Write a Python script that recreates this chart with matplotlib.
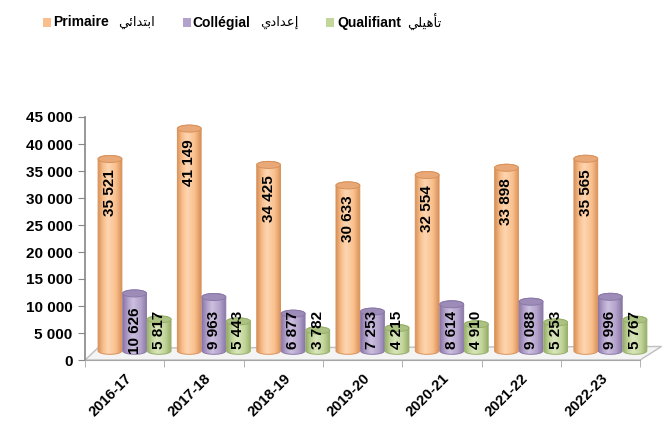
import numpy as np
import matplotlib
matplotlib.use("Agg")
import matplotlib.pyplot as plt
from matplotlib.patches import Polygon, Ellipse, Rectangle
from matplotlib.colors import to_rgb

years = ["2016-17", "2017-18", "2018-19", "2019-20", "2020-21", "2021-22", "2022-23"]
primaire = [35521, 41149, 34425, 30633, 32554, 33898, 35565]
college = [10626, 9963, 6877, 7253, 8614, 9088, 9996]
qualifiant = [5817, 5443, 3782, 4215, 4910, 5253, 5767]
names_fr = ["Primaire", "Collégial", "Qualifiant"]
names_ar = ["ابتدائي", "إعدادي", "تأهيلي"]

# (dark edge, body, highlight, cap)
palette = [
    ("#D9925A", "#F9BF8C", "#FDD6B2", "#E9A877"),
    ("#8B78A8", "#B3A2CB", "#CCC0DE", "#9D8BB8"),
    ("#97AF6A", "#C3D69B", "#D9E6BD", "#ABC283"),
]

# presentation forms so the arabic joins without a shaping engine
FORMS = {
    'ا': ('\uFE8D', '\uFE8E', None, None),
    'أ': ('\uFE83', '\uFE84', None, None),
    'إ': ('\uFE87', '\uFE88', None, None),
    'د': ('\uFEA9', '\uFEAA', None, None),
    'ب': ('\uFE8F', '\uFE90', '\uFE91', '\uFE92'),
    'ت': ('\uFE95', '\uFE96', '\uFE97', '\uFE98'),
    'ئ': ('\uFE89', '\uFE8A', '\uFE8B', '\uFE8C'),
    'ي': ('\uFEF1', '\uFEF2', '\uFEF3', '\uFEF4'),
    'ع': ('\uFEC9', '\uFECA', '\uFECB', '\uFECC'),
    'ه': ('\uFEE9', '\uFEEA', '\uFEEB', '\uFEEC'),
    'ل': ('\uFEDD', '\uFEDE', '\uFEDF', '\uFEE0'),
}

def shape(word):
    out = []
    for i, ch in enumerate(word):
        f = FORMS[ch]
        prev = i > 0 and FORMS[word[i - 1]][2] is not None
        nxt = i < len(word) - 1 and f[2] is not None
        if prev and nxt:
            g = f[3]
        elif prev:
            g = f[1]
        elif nxt:
            g = f[2]
        else:
            g = f[0]
        out.append(g)
    return ''.join(reversed(out))

def gradient(cols):
    dark, mid, light, _ = cols
    stops = [0, 0.22, 0.42, 0.75, 1]
    seq = [to_rgb(c) for c in (dark, mid, light, mid, dark)]
    xs = np.linspace(0, 1, 64)
    g = np.stack([np.interp(xs, stops, [c[k] for c in seq]) for k in range(3)], axis=-1)
    return g[None]

def cylinder(ax, xc, base, top, w, eh, cols):
    t = np.linspace(np.pi, 2 * np.pi, 40)
    t2 = np.linspace(0, np.pi, 40)
    vx = np.r_[xc + w / 2 * np.cos(t), xc + w / 2 * np.cos(t2)]
    vy = np.r_[base + eh / 2 * np.sin(t), top + eh / 2 * np.sin(t2)]
    body = Polygon(np.column_stack([vx, vy]), closed=True, facecolor='none',
                   edgecolor=cols[0], lw=0.7, zorder=4, clip_on=False)
    ax.add_patch(body)
    im = ax.imshow(gradient(cols), extent=[xc - w / 2, xc + w / 2, base - eh / 2, top + eh / 2],
                   aspect='auto', zorder=3, interpolation='bilinear')
    im.set_clip_path(body)
    im.set_clip_box(None)
    ax.add_patch(Ellipse((xc, top), w, eh, facecolor=cols[3], edgecolor=cols[0],
                         lw=0.7, zorder=5, clip_on=False))

W, H = 672, 423
fig = plt.figure(figsize=(W / 100, H / 100), dpi=100)
ax = fig.add_axes([85 / W, 63 / H, 7.3 * 79.3 / W, 243 / H])

ax.add_patch(Polygon([(0, 0), (7, 0), (7.27, 2500), (0.16, 2200)], closed=True,
                     facecolor='#F4F4F4', edgecolor='#BFBFBF', lw=1, zorder=1, clip_on=False))

series = [primaire, college, qualifiant]
offsets = [0.315, 0.625, 0.935]
bw = 0.30
yb = 1700
eh = 1300
for s, vals in enumerate(series):
    for i, v in enumerate(vals):
        xc = i + offsets[s]
        cylinder(ax, xc, yb, yb + v, bw, eh, palette[s])
        lab = f"{v:,}".replace(",", " ")
        if v > 15000:
            ax.text(xc, yb + v - 1900, lab, rotation=90, ha='center', va='top',
                    fontsize=11, fontweight='bold', family='Liberation Sans', zorder=6)
        else:
            ax.text(xc, 5500, lab, rotation=90, ha='center', va='center',
                    fontsize=11, fontweight='bold', family='Liberation Sans', zorder=6)

ax.set_xlim(0, 7.3)
ax.set_ylim(0, 45000)
for k in ['top', 'right']:
    ax.spines[k].set_visible(False)
ax.spines['left'].set_color('#868686')
ax.spines['bottom'].set_color('#A6A6A6')
ax.spines['bottom'].set_bounds(0, 7)
ax.spines['left'].set_linewidth(1.2)
ax.set_yticks(np.arange(0, 45001, 5000))
ax.set_yticklabels([f"{v:,}".replace(",", " ") for v in range(0, 45001, 5000)],
                   fontsize=11, fontweight='bold', family='Liberation Sans')
ax.set_xticks(np.arange(7) + 0.5)
ax.set_xticklabels(years, rotation=45, ha='right', rotation_mode='anchor',
                   fontsize=10.5, fontweight='bold', family='Liberation Sans')
ax.set_xticks(np.arange(8), minor=True)
ax.tick_params(axis='x', which='major', length=0, pad=8)
ax.tick_params(axis='x', which='minor', length=5, color='#A6A6A6')
ax.tick_params(axis='y', length=5, color='#868686', pad=4)
ax.set_facecolor('none')

# legend
leg_x = [(43, 53, 118), (183, 192, 260), (326, 337, 407)]
for s in range(3):
    sq, tx, ar = leg_x[s]
    fig.patches.append(Rectangle((sq / W, 1 - 27 / H), 8 / W, 9 / H, transform=fig.transFigure,
                                 facecolor=palette[s][1], edgecolor='none'))
    fig.text(tx / W, 1 - 22.5 / H, names_fr[s], fontsize=10, fontweight='bold',
             family='Liberation Sans', va='center', ha='left')
    fig.text(ar / W, 1 - 22.5 / H, shape(names_ar[s]), fontsize=9.5,
             family='DejaVu Sans', va='center', ha='left')

fig.savefig("out.png", dpi=100)
